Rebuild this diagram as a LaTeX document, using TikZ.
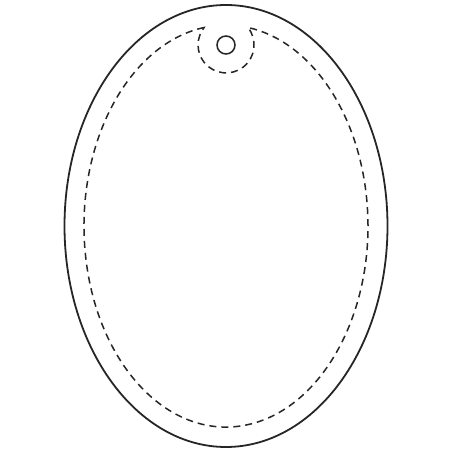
\documentclass[tikz,border=0pt]{standalone}
\begin{document}
\begin{tikzpicture}[x=1pt,y=1pt,
  outline/.style={line width=1.8pt,draw=black!85},
  seam/.style={line width=1.5pt,draw=black!85,dash pattern=on 7pt off 5pt}]
\useasboundingbox (0,0) rectangle (452,452);
\fill[white] (0,0) rectangle (452,452);
\coordinate (c) at (226,226);
\coordinate (h) at (226,407);
\draw[outline] (c) ellipse [x radius=161.5, y radius=221];
\draw[outline, line width=1.5pt] (h) circle [radius=9];
\draw[seam] (204.0,424.5) arc [start angle=98.91, end angle=441.09, x radius=142, y radius=201]
  arc [start angle=38.5, end angle=-218.5, radius=28] -- cycle;
\end{tikzpicture}
\end{document}
